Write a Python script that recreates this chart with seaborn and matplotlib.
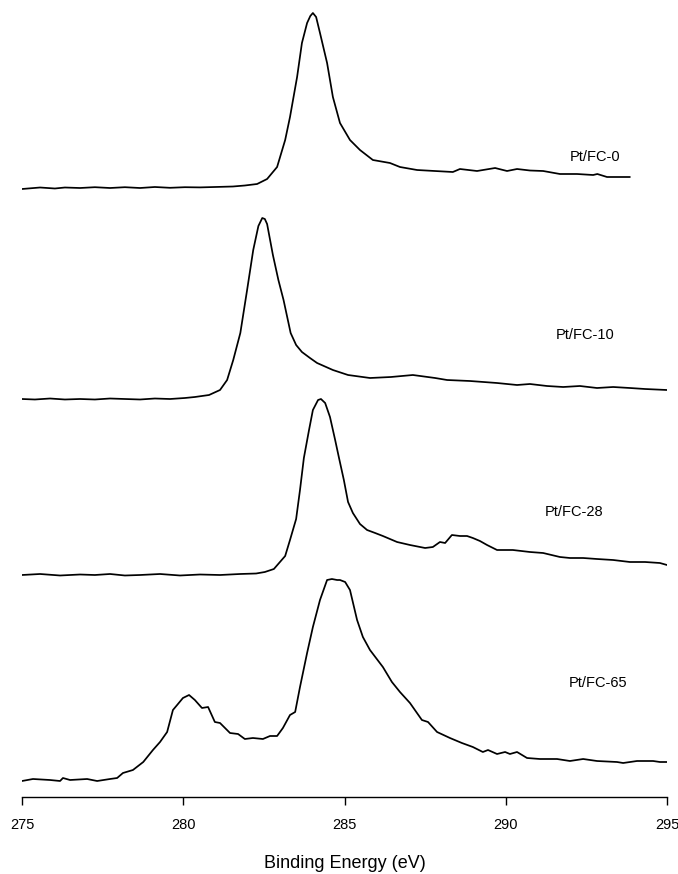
import numpy as np
import pandas as pd
import matplotlib
matplotlib.use("Agg")
import matplotlib.pyplot as plt
import seaborn as sns

# ---- data (binding energy in eV, intensity in arbitrary units) ----
samples = ["Pt/FC-0", "Pt/FC-10", "Pt/FC-28", "Pt/FC-65"]

e_fc0 = [275.00, 275.56, 276.02, 276.33, 276.80, 277.26, 277.73, 278.19, 278.66, 279.12,
         279.59, 280.05, 280.52, 280.98, 281.54, 281.91, 282.29, 282.60, 282.91, 283.16,
         283.31, 283.53, 283.68, 283.84, 283.94, 284.02, 284.12, 284.24, 284.46, 284.64,
         284.86, 285.17, 285.48, 285.88, 286.41, 286.72, 287.25, 287.80, 288.36, 288.58,
         289.11, 289.67, 290.04, 290.35, 290.75, 291.16, 291.68, 292.21, 292.71, 292.84,
         293.14, 293.85]
i_fc0 = [-1, 0.5, -0.5, 0.5, 0, 0.8, 0, 0.8, 0, 1,
         0.2, 0.8, 0.6, 1, 1.5, 2.5, 4, 9, 21, 48,
         71, 111, 145, 165, 172, 175, 171, 155, 125, 91,
         65, 48, 38, 28, 25, 21, 18, 17, 16, 19,
         17, 20, 17, 19, 17.5, 17, 14, 14, 13, 14,
         11, 11]

e_fc10 = [275.00, 275.40, 275.87, 276.33, 276.80, 277.26, 277.73, 278.19, 278.66, 279.12,
          279.59, 280.05, 280.36, 280.80, 281.14, 281.36, 281.55, 281.77, 281.98, 282.17,
          282.33, 282.45, 282.53, 282.60, 282.78, 282.95, 283.11, 283.33, 283.50, 283.68,
          283.93, 284.15, 284.64, 285.11, 285.79, 286.44, 287.12, 287.81, 288.18, 288.89,
          289.73, 290.35, 290.75, 291.28, 291.78, 292.30, 292.83, 293.33, 293.85, 294.32,
          295.00]
i_fc10 = [0, -0.5, 0.5, -0.5, 0, -0.5, 0.5, 0, -0.5, 0.5,
          0, 1, 2, 4, 9, 19, 39, 66, 109, 149,
          173, 181, 180, 175, 144, 119, 99, 66, 54, 47,
          41, 36, 29, 24, 21, 22, 24, 21, 19, 18,
          16, 14, 15, 13, 12, 13, 11, 12, 11, 10,
          9]

e_fc28 = [275.00, 275.56, 276.18, 276.80, 277.26, 277.73, 278.19, 278.66, 279.28, 279.90,
          280.52, 281.14, 281.76, 282.26, 282.53, 282.81, 283.16, 283.31, 283.50, 283.62,
          283.74, 283.90, 284.02, 284.18, 284.27, 284.40, 284.55, 284.71, 284.83, 284.98,
          285.11, 285.26, 285.48, 285.70, 285.95, 286.19, 286.63, 287.03, 287.50, 287.74,
          287.96, 288.12, 288.33, 288.58, 288.80, 288.98, 289.20, 289.42, 289.73, 290.22,
          290.75, 291.16, 291.68, 291.99, 292.40, 292.83, 293.33, 293.85, 294.32, 294.78,
          295.00]
i_fc28 = [0, 1, -0.5, 0.5, 0, 1, -0.5, 0, 1, -0.5,
          0.5, 0, 1, 1.5, 3, 6, 19, 35, 56, 85,
          117, 145, 165, 175, 176, 172, 158, 135, 117, 95,
          73, 62, 51, 45, 42, 39, 33, 30, 27, 28,
          33, 32, 40, 39, 39, 37, 34, 30, 25, 25,
          23, 22, 18, 17, 17, 16, 15, 13, 13, 12,
          10]

e_fc65 = [275.00, 275.34, 275.87, 276.18, 276.27, 276.49, 277.02, 277.33, 277.73, 277.95,
          278.13, 278.44, 278.76, 279.06, 279.28, 279.50, 279.68, 279.81, 279.99, 280.18,
          280.36, 280.58, 280.77, 280.98, 281.14, 281.45, 281.70, 281.91, 282.16, 282.47,
          282.69, 282.91, 283.09, 283.31, 283.47, 283.62, 283.84, 284.02, 284.24, 284.46,
          284.61, 284.77, 284.86, 285.02, 285.17, 285.39, 285.57, 285.79, 286.19, 286.47,
          286.72, 287.03, 287.40, 287.59, 287.87, 288.27, 288.64, 288.98, 289.29, 289.45,
          289.73, 289.98, 290.13, 290.35, 290.66, 291.06, 291.59, 291.99, 292.40, 292.83,
          293.45, 293.64, 294.07, 294.57, 294.78, 295.00]
i_fc65 = [-1, 1, 0, -1, 2, 0, 1, -1, 1, 2,
          7, 10, 18, 30, 38, 48, 70, 75, 82, 85,
          80, 72, 73, 58, 57, 47, 46, 41, 42, 41,
          44, 44, 52, 65, 68, 93, 127, 153, 180, 200,
          201, 200, 200, 198, 190, 160, 143, 130, 113, 98,
          88, 77, 60, 58, 48, 42, 37, 33, 28, 30,
          26, 28, 26, 28, 22, 21, 21, 19, 21, 19,
          18, 17, 19, 19, 18, 18]

# vertical stacking offsets of each spectrum
offsets = [609, 398, 222, 17]
xticks = [275, 280, 285, 290, 295]

energies = [e_fc0, e_fc10, e_fc28, e_fc65]
intens = [i_fc0, i_fc10, i_fc28, i_fc65]

frames = []
for name, e, i, off in zip(samples, energies, intens, offsets):
    frames.append(pd.DataFrame({"E": e, "I": np.array(i, float) + off, "sample": name}))
df = pd.concat(frames, ignore_index=True)

sns.set_theme(style="white")
plt.rcParams["font.family"] = ["Liberation Sans", "DejaVu Sans"]
plt.rcParams["text.color"] = "black"
plt.rcParams["axes.labelcolor"] = "black"
plt.rcParams["xtick.color"] = "black"

W, H = 678, 874
fig = plt.figure(figsize=(W / 100, H / 100), dpi=100)
ax = fig.add_axes([22 / W, (H - 797) / H, (667 - 22) / W, 797 / H])

sns.lineplot(data=df, x="E", y="I", units="sample", estimator=None, sort=False,
             color="black", linewidth=1.25, ax=ax)

label_pos = [(292.77, 640), (292.46, 462), (292.12, 285), (292.86, 114)]
for name, (lx, ly) in zip(samples, label_pos):
    ax.text(lx, ly, name, ha="center", va="center", fontsize=10.5, color="black")

ax.set_xlim(275, 295)
ax.set_ylim(0, 797)
ax.set_xticks(xticks)
ax.set_xticklabels([str(t) for t in xticks], fontsize=10.5, color="black")
ax.set_yticks([])
ax.set_ylabel("")
ax.set_xlabel("Binding Energy (eV)", fontsize=13, labelpad=17, color="black")
for s in ["top", "left", "right"]:
    ax.spines[s].set_visible(False)
ax.spines["bottom"].set_color("black")
ax.spines["bottom"].set_linewidth(1.0)
ax.tick_params(axis="x", direction="out", length=6, width=1.0, color="black",
               labelcolor="black", bottom=True, pad=9)
ax.patch.set_alpha(0)

fig.savefig("out.png", dpi=100, facecolor="white")
